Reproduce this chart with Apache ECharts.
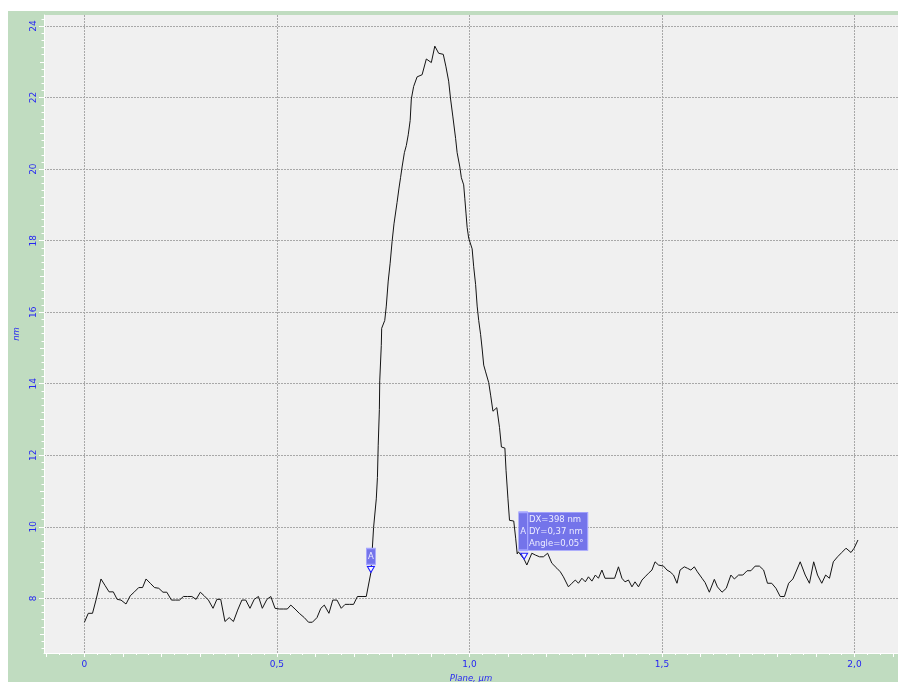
<!DOCTYPE html>
<html>
<head>
<meta charset="utf-8">
<script src="https://cdn.jsdelivr.net/npm/echarts@6/dist/echarts.min.js"></script>
<style>
  html, body { margin: 0; padding: 0; background: #ffffff; }
  #chart { width: 898px; height: 682px; }
</style>
</head>
<body>
<div id="chart"></div>
<script>
// Height profile along the section line: lateral position (µm) and height (nm)
const positionUm = [
  0.000, 0.010, 0.021, 0.030, 0.043, 0.054, 0.064, 0.075, 0.085, 0.095,
  0.108, 0.119, 0.130, 0.141, 0.151, 0.160, 0.171, 0.182, 0.193, 0.204,
  0.214, 0.226, 0.237, 0.247, 0.257, 0.268, 0.279, 0.290, 0.301, 0.311,
  0.322, 0.334, 0.344, 0.354, 0.365, 0.376, 0.387, 0.398, 0.409, 0.419,
  0.430, 0.441, 0.452, 0.462, 0.474, 0.484, 0.495, 0.506, 0.517, 0.527,
  0.536, 0.547, 0.558, 0.571, 0.582, 0.592, 0.604, 0.614, 0.623, 0.635,
  0.645, 0.656, 0.667, 0.677, 0.688, 0.699, 0.709, 0.721, 0.732, 0.744,
  0.751, 0.758, 0.761, 0.763, 0.766, 0.767, 0.771, 0.772, 0.780, 0.784,
  0.789, 0.794, 0.799, 0.804, 0.812, 0.817, 0.821, 0.825, 0.831, 0.836,
  0.841, 0.846, 0.849, 0.855, 0.864, 0.877, 0.888, 0.901, 0.910, 0.920,
  0.932, 0.939, 0.946, 0.951, 0.957, 0.964, 0.968, 0.975, 0.979, 0.985,
  0.988, 0.991, 0.994, 0.998, 1.007, 1.011, 1.016, 1.020, 1.024, 1.029,
  1.033, 1.037, 1.042, 1.050, 1.055, 1.061, 1.071, 1.078, 1.083, 1.092,
  1.095, 1.100, 1.104, 1.115, 1.120, 1.124, 1.127, 1.142, 1.149, 1.162,
  1.171, 1.182, 1.192, 1.203, 1.214, 1.227, 1.236, 1.244, 1.257, 1.266,
  1.275, 1.283, 1.292, 1.301, 1.309, 1.318, 1.327, 1.335, 1.344, 1.352,
  1.365, 1.377, 1.387, 1.396, 1.404, 1.413, 1.422, 1.430, 1.439, 1.448,
  1.456, 1.465, 1.474, 1.482, 1.491, 1.504, 1.513, 1.521, 1.530, 1.539,
  1.547, 1.558, 1.566, 1.575, 1.584, 1.592, 1.604, 1.612, 1.623, 1.636,
  1.644, 1.656, 1.667, 1.679, 1.688, 1.699, 1.710, 1.721, 1.731, 1.742,
  1.753, 1.764, 1.774, 1.785, 1.796, 1.807, 1.818, 1.829, 1.840, 1.850,
  1.859, 1.872, 1.883, 1.894, 1.904, 1.915, 1.925, 1.935, 1.945, 1.956,
  1.967, 1.978, 1.991, 1.999, 2.009
];
const heightNm = [
  7.33, 7.58, 7.58, 7.95, 8.54, 8.35, 8.18, 8.18, 7.97, 7.95,
  7.84, 8.07, 8.18, 8.30, 8.30, 8.54, 8.42, 8.30, 8.28, 8.17,
  8.17, 7.95, 7.95, 7.95, 8.05, 8.05, 8.05, 7.97, 8.17, 8.07,
  7.95, 7.72, 7.97, 7.97, 7.35, 7.46, 7.35, 7.67, 7.95, 7.95,
  7.72, 7.97, 8.05, 7.72, 7.97, 8.05, 7.72, 7.70, 7.70, 7.70,
  7.81, 7.70, 7.58, 7.46, 7.33, 7.33, 7.46, 7.72, 7.81, 7.58,
  7.95, 7.95, 7.72, 7.83, 7.83, 7.83, 8.05, 8.05, 8.05, 8.72,
  9.98, 10.78, 11.38, 12.28, 13.28, 14.08, 15.07, 15.55, 15.77, 16.17,
  16.87, 17.37, 17.97, 18.47, 19.07, 19.47, 19.76, 20.06, 20.46, 20.66,
  20.96, 21.36, 21.96, 22.31, 22.58, 22.64, 23.08, 22.98, 23.44, 23.24,
  23.21, 22.86, 22.46, 21.96, 21.46, 20.86, 20.46, 20.06, 19.76, 19.56,
  19.17, 18.77, 18.37, 18.07, 17.77, 17.27, 16.77, 16.17, 15.77, 15.37,
  14.97, 14.52, 14.33, 14.03, 13.68, 13.23, 13.33, 12.78, 12.23, 12.20,
  11.58, 10.78, 10.18, 10.16, 9.68, 9.24, 9.30, 9.09, 8.93, 9.26,
  9.21, 9.16, 9.16, 9.26, 8.98, 8.84, 8.74, 8.60, 8.32, 8.42,
  8.51, 8.42, 8.56, 8.46, 8.60, 8.48, 8.65, 8.56, 8.79, 8.56,
  8.56, 8.56, 8.88, 8.56, 8.46, 8.51, 8.32, 8.46, 8.32, 8.51,
  8.60, 8.70, 8.79, 9.02, 8.93, 8.90, 8.79, 8.74, 8.65, 8.42,
  8.79, 8.88, 8.84, 8.79, 8.88, 8.74, 8.56, 8.44, 8.17, 8.53,
  8.32, 8.17, 8.28, 8.65, 8.54, 8.65, 8.65, 8.77, 8.77, 8.90,
  8.90, 8.79, 8.42, 8.42, 8.28, 8.05, 8.05, 8.42, 8.54, 8.79,
  9.02, 8.65, 8.42, 9.02, 8.65, 8.42, 8.65, 8.56, 9.02, 9.16,
  9.28, 9.40, 9.28, 9.40, 9.63
];

// Axis label positions
const xLabelValues = [0, 0.5, 1.0, 1.5, 2.0];
const yLabelValues = [8, 10, 12, 14, 16, 18, 20, 22, 24];

// Measurement cursor: first cursor position (µm, nm) and the measured offsets
const cursorA = [0.744, 8.72];
const cursorDxNm = 398;
const cursorDyNm = 0.37;

// Visible axis ranges
const X_MIN = -0.105, X_MAX = 2.113;
const Y_MIN = 6.47, Y_MAX = 24.31;

const BLUE = '#2626f2';
const FONT = 'DejaVu Sans';

// Tick sets: x long ticks every 0.1 µm, short ticks every 1/30 µm;
// y medium ticks on odd values, minor ticks every 0.2 nm
const xLongTicks = [];
for (let k = -1; k <= 21; k++) xLongTicks.push(+(k / 10).toFixed(4));
const xShortTicks = [];
for (let k = -3; k <= 63; k++) if (k % 3 !== 0) xShortTicks.push(+(k / 30).toFixed(5));
const yMidTicks = [];
for (let v = 7; v <= 23; v += 2) yMidTicks.push(v);
const yMinorTicks = [];
for (let k = 33; k <= 121; k++) if (k % 5 !== 0) yMinorTicks.push(+(k / 5).toFixed(2));

const commaNum = v => (v === 0 ? '0' : v.toFixed(1).replace('.', ','));

const profile = positionUm.map((x, i) => [x, heightNm[i]]);

const cursorB = [
  +(cursorA[0] + cursorDxNm / 1000).toFixed(4),
  +(cursorA[1] + cursorDyNm).toFixed(4)
];
const angleDeg = Math.atan(cursorDyNm / cursorDxNm) * 180 / Math.PI;
const readout = [
  'DX=' + cursorDxNm + ' nm',
  'DY=' + cursorDyNm.toFixed(2).replace('.', ',') + ' nm',
  'Angle=' + angleDeg.toFixed(2).replace('.', ',') + '\u00b0'
].join('\n');

const boxStyle = { color: '#7474ea', borderColor: '#a4a4ff', borderWidth: 1 };
const boxText = { color: '#ececff', fontFamily: FONT, fontSize: 8.5 };
const triStyle = { color: '#f6f6ff', borderColor: '#1a1aff', borderWidth: 1 };

function tickAxis(kind, values, len) {
  return {
    type: 'value',
    position: kind === 'x' ? 'bottom' : 'left',
    min: kind === 'x' ? X_MIN : Y_MIN,
    max: kind === 'x' ? X_MAX : Y_MAX,
    axisLine: { show: false, onZero: false },
    axisTick: { show: true, inside: false, length: len, customValues: values,
                lineStyle: { color: '#ffffff', width: 1 } },
    axisLabel: { show: false },
    splitLine: { show: false }
  };
}

const gridLine = { color: '#a8a8a8', width: 1, type: [2, 1] };

const chart = echarts.init(document.getElementById('chart'), null, { renderer: 'canvas' });

chart.setOption({
  animation: false,
  backgroundColor: '#c0dcc0',
  graphic: [
    { type: 'rect', silent: true, z: 100, shape: { x: 0, y: 0, width: 898, height: 11 }, style: { fill: '#ffffff' } },
    { type: 'rect', silent: true, z: 100, shape: { x: 0, y: 0, width: 8, height: 682 }, style: { fill: '#ffffff' } }
  ],
  grid: {
    left: 44, right: 0, top: 15, bottom: 29,
    outerBoundsMode: 'none',
    containLabel: false,
    show: true, backgroundColor: '#f0f0f0', borderWidth: 0
  },
  xAxis: [
    {
      type: 'value', position: 'bottom', min: X_MIN, max: X_MAX,
      minInterval: 0.5, maxInterval: 0.5,
      name: 'Plane, \u00b5m', nameLocation: 'middle', nameGap: 17,
      nameTextStyle: { color: BLUE, fontFamily: FONT, fontSize: 8.5, fontStyle: 'italic' },
      axisLine: { show: true, onZero: false, lineStyle: { color: '#ffffff', width: 1 } },
      axisTick: { show: false, customValues: xLabelValues },
      axisLabel: {
        show: true, customValues: xLabelValues, margin: 7,
        color: BLUE, fontFamily: FONT, fontSize: 9,
        formatter: commaNum
      },
      splitLine: { show: true, lineStyle: gridLine }
    },
    tickAxis('x', xLongTicks, 4),
    tickAxis('x', xShortTicks, 2)
  ],
  yAxis: [
    {
      type: 'value', position: 'left', min: Y_MIN, max: Y_MAX,
      minInterval: 2, maxInterval: 2,
      name: 'nm', nameLocation: 'middle', nameGap: 21,
      nameTextStyle: { color: BLUE, fontFamily: FONT, fontSize: 8.5, fontStyle: 'italic' },
      axisLine: { show: true, onZero: false, lineStyle: { color: '#ffffff', width: 1 } },
      axisTick: { show: true, length: 5, customValues: yLabelValues,
                  lineStyle: { color: '#ffffff', width: 1 } },
      axisLabel: {
        show: true, customValues: yLabelValues, rotate: 90, margin: 6,
        color: BLUE, fontFamily: FONT, fontSize: 9
      },
      splitLine: { show: true, lineStyle: gridLine }
    },
    tickAxis('y', yMidTicks, 4),
    tickAxis('y', yMinorTicks, 2.5)
  ],
  series: [
    {
      type: 'line',
      xAxisIndex: 0, yAxisIndex: 0,
      data: profile,
      symbol: 'none',
      showSymbol: false,
      clip: true,
      lineStyle: { color: '#141414', width: 1 },
      z: 2,
      markPoint: {
        silent: true,
        animation: false,
        data: [
          // cursor A: label box above the marker triangle
          {
            coord: cursorA, symbol: 'rect', symbolSize: [9, 16], symbolOffset: [0, -16],
            itemStyle: boxStyle,
            label: Object.assign({ show: true, position: 'inside', formatter: 'A' }, boxText)
          },
          {
            coord: cursorA, symbol: 'triangle', symbolRotate: 180, symbolSize: [7, 6], symbolOffset: [0, -3],
            itemStyle: triStyle, label: { show: false }
          },
          // second cursor: tag, readout panel and marker triangle
          {
            coord: cursorB, symbol: 'rect', symbolSize: [9, 38], symbolOffset: [-1, -28],
            itemStyle: boxStyle,
            label: Object.assign({ show: true, position: 'inside', formatter: 'A' }, boxText)
          },
          {
            coord: cursorB, symbol: 'rect', symbolSize: [60, 38], symbolOffset: [33.5, -28],
            itemStyle: boxStyle,
            label: Object.assign({
              show: true, position: 'insideLeft', distance: 2, formatter: readout,
              lineHeight: 12, align: 'left'
            }, boxText)
          },
          {
            coord: cursorB, symbol: 'triangle', symbolRotate: 180, symbolSize: [7, 6], symbolOffset: [0, -3],
            itemStyle: triStyle, label: { show: false }
          }
        ]
      }
    }
  ]
});
</script>
</body>
</html>
